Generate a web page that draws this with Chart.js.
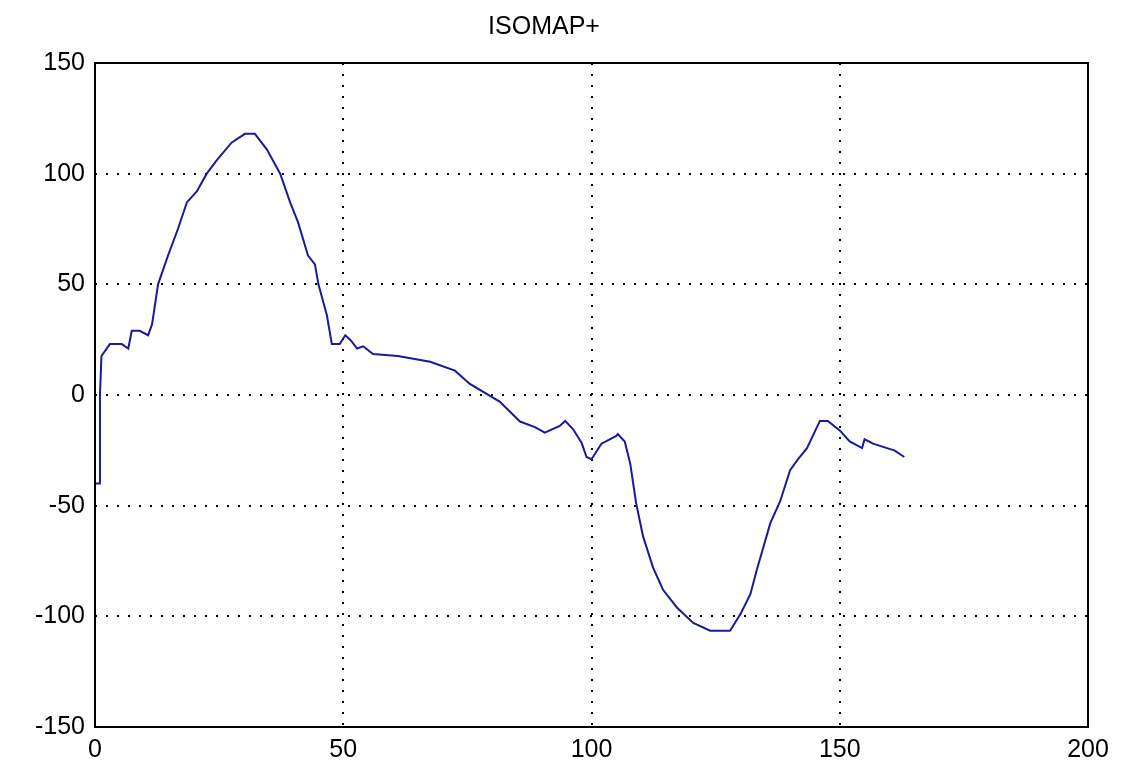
<!DOCTYPE html>
<html>
<head>
<meta charset="utf-8">
<script src="https://cdn.jsdelivr.net/npm/chart.js@4"></script>
<style>
  html, body { margin: 0; padding: 0; background: #fff; }
  #wrap { width: 1123px; height: 781px; }
</style>
</head>
<body>
<div id="wrap"><canvas id="c"></canvas></div>
<script>
// Curve samples
const xValues = [0, 0, 0.9, 1, 1.3, 3, 5.4, 6.7, 7.4, 9, 10.7, 11.5, 12.7, 14.7, 16.7, 18.5, 20.5, 22.5, 24.5, 27.5, 30.2, 32.2, 34.6, 37.3, 39.3, 40.9, 42.9, 44.3, 45, 46.7, 47.7, 49.3, 50.4, 51.4, 52.8, 54, 56, 61, 67.5, 72.5, 75.5, 81.5, 85.6, 88.6, 90.6, 93.6, 94.7, 96.3, 98, 99, 100, 102, 105, 105.3, 106.7, 107.8, 109, 110.4, 112.4, 114.4, 117.2, 120.5, 123.9, 127.9, 130, 132, 133.3, 136, 138, 140, 141.6, 143.4, 146, 147.6, 150, 152, 154.5, 155, 156.7, 159.5, 161, 163];
const yValues = [-60, -40, -40, 0, 17.6, 23, 23, 21, 29, 29, 27, 32, 50, 63, 75, 87, 92, 100, 106, 114, 118, 118, 111, 100, 87, 78, 63, 59, 50, 36, 23, 23, 27, 25, 21, 22, 18.5, 17.6, 15, 11, 5, -3, -12, -14.5, -17, -14, -11.7, -15.5, -21.6, -28, -29, -22, -18.5, -17.6, -21, -31, -49, -64, -78, -88, -96, -103, -106.5, -106.5, -99, -90, -79, -58, -48, -34, -29, -24, -11.7, -11.7, -16, -21, -24, -20, -22, -24, -25, -28];
const xTicks = [0, 50, 100, 150, 200];
const yTicks = [-150, -100, -50, 0, 50, 100, 150];

const points = xValues.map((x, i) => ({ x, y: yValues[i] }));

// Black frame around the plot area, like the original figure
const frame = {
  id: 'frame',
  afterDraw(chart) {
    const { ctx, chartArea: a } = chart;
    ctx.save();
    ctx.strokeStyle = '#000';
    ctx.lineWidth = 2;
    ctx.strokeRect(a.left, a.top, a.right - a.left, a.bottom - a.top);
    ctx.restore();
  }
};

const grid = {
  color: '#000',
  lineWidth: 2,
  drawTicks: false,
};

new Chart(document.getElementById('c'), {
  type: 'scatter',
  data: {
    datasets: [{
      data: points,
      showLine: true,
      borderColor: '#1a1a99',
      borderWidth: 2,
      pointRadius: 0,
      tension: 0,
      clip: false,
    }],
  },
  options: {
    responsive: true,
    maintainAspectRatio: false,
    animation: false,
    layout: { padding: { right: 35, left: 0, bottom: 0, top: 0 } },
    plugins: {
      legend: { display: false },
      tooltip: { enabled: false },
      title: {
        display: true,
        text: 'ISOMAP+',
        color: '#000',
        font: { family: 'Liberation Sans', size: 25, weight: 'normal' },
        padding: { top: 12, bottom: 21 },
      },
    },
    scales: {
      x: {
        type: 'linear',
        min: 0, max: 200,
        afterBuildTicks: s => { s.ticks = xTicks.map(v => ({ value: v })); },
        afterFit: s => { s.height = 54; },
        grid: { ...grid },
        border: { display: false, dash: [2, 9] },
        ticks: { color: '#000', padding: 8, font: { family: 'Liberation Sans', size: 25 } },
      },
      y: {
        min: -150, max: 150,
        afterBuildTicks: s => { s.ticks = yTicks.map(v => ({ value: v })); },
        afterFit: s => { s.width = 95; },
        grid: { ...grid },
        border: { display: false, dash: [2, 9] },
        ticks: { color: '#000', padding: 10, font: { family: 'Liberation Sans', size: 25 } },
      },
    },
  },
  plugins: [frame],
});
</script>
</body>
</html>
